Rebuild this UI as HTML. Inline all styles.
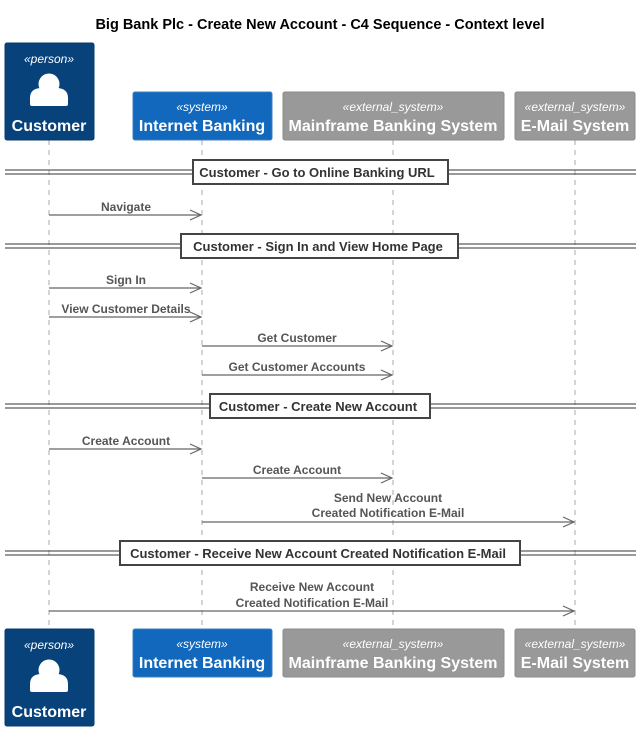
<!DOCTYPE html>
<html><head><meta charset="utf-8"><style>
html,body{margin:0;padding:0;background:#fff}
svg{display:block}
text{font-family:"Liberation Sans",Arial,sans-serif}
.t{font-size:16px;font-weight:bold;fill:#fff;text-anchor:middle}
.s{font-size:12px;font-style:italic;fill:#fff;text-anchor:middle}
.m{font-size:12px;font-weight:bold;fill:#555;text-anchor:middle}
.d{font-size:13px;font-weight:bold;fill:#333;text-anchor:middle}
</style></head><body>
<svg width="641" height="731" viewBox="0 0 641 731" xmlns="http://www.w3.org/2000/svg">
<defs>
<g id="person"><circle cx="0" cy="0" r="10.5" fill="#fff"/><path d="M-19,20 v-6 q0,-10 12,-10 h14 q12,0 12,10 v6 q0,2 -2,2 h-34 q-2,0 -2,-2z" fill="#fff"/></g>
</defs>
<text x="320" y="29" font-size="14.5" font-weight="bold" text-anchor="middle" fill="#000">Big Bank Plc - Create New Account - C4 Sequence - Context level</text>
<g stroke="#aaa" stroke-dasharray="5,5" stroke-width="1">
<line x1="49" y1="140" x2="49" y2="629"/><line x1="202" y1="140" x2="202" y2="629"/>
<line x1="393" y1="140" x2="393" y2="629"/><line x1="575" y1="140" x2="575" y2="629"/>
</g>
<rect x="5" y="43" width="89" height="97" rx="2" fill="#08427B" stroke="#073B6F"/>
<text class="s" x="49" y="63">«person»</text>
<use href="#person" x="49" y="84"/>
<text class="t" x="49" y="131">Customer</text>
<rect x="133" y="92" width="139" height="48" rx="2" fill="#1168BD" stroke="#3C7FC0"/>
<text class="s" x="202" y="111">«system»</text><text class="t" x="202" y="131">Internet Banking</text>
<rect x="283" y="92" width="221" height="48" rx="2" fill="#999" stroke="#8A8A8A"/>
<text class="s" x="393" y="111">«external_system»</text><text class="t" x="393" y="131">Mainframe Banking System</text>
<rect x="515" y="92" width="120" height="48" rx="2" fill="#999" stroke="#8A8A8A"/>
<text class="s" x="575" y="111">«external_system»</text><text class="t" x="575" y="131">E-Mail System</text>
<rect x="5" y="629" width="89" height="97" rx="2" fill="#08427B" stroke="#073B6F"/>
<text class="s" x="49" y="649">«person»</text>
<use href="#person" x="49" y="670"/>
<text class="t" x="49" y="717">Customer</text>
<rect x="133" y="629" width="139" height="48" rx="2" fill="#1168BD" stroke="#3C7FC0"/>
<text class="s" x="202" y="648">«system»</text><text class="t" x="202" y="668">Internet Banking</text>
<rect x="283" y="629" width="221" height="48" rx="2" fill="#999" stroke="#8A8A8A"/>
<text class="s" x="393" y="648">«external_system»</text><text class="t" x="393" y="668">Mainframe Banking System</text>
<rect x="515" y="629" width="120" height="48" rx="2" fill="#999" stroke="#8A8A8A"/>
<text class="s" x="575" y="648">«external_system»</text><text class="t" x="575" y="668">E-Mail System</text>
<g stroke="#333" stroke-width="1" fill="none">
<line x1="5" y1="170" x2="636" y2="170"/><line x1="5" y1="174" x2="636" y2="174"/>
<line x1="5" y1="244" x2="636" y2="244"/><line x1="5" y1="248" x2="636" y2="248"/>
<line x1="5" y1="404" x2="636" y2="404"/><line x1="5" y1="408" x2="636" y2="408"/>
<line x1="5" y1="551" x2="636" y2="551"/><line x1="5" y1="555" x2="636" y2="555"/>
</g>
<g fill="#fff" stroke="#444" stroke-width="2">
<rect x="193" y="160" width="255" height="24"/>
<rect x="181" y="234" width="277" height="24"/>
<rect x="210" y="394" width="220" height="24"/>
<rect x="120" y="541" width="400" height="24"/>
</g>
<text class="d" x="317" y="177">Customer - Go to Online Banking URL</text>
<text class="d" x="318" y="251">Customer - Sign In and View Home Page</text>
<text class="d" x="318" y="411">Customer - Create New Account</text>
<text class="d" x="318" y="558">Customer - Receive New Account Created Notification E-Mail</text>
<g stroke="#666" stroke-width="1.2" fill="none">
<line x1="49" y1="215" x2="201" y2="215"/><path d="M190,210 L201,215 L190,220"/>
<line x1="49" y1="288" x2="201" y2="288"/><path d="M190,283 L201,288 L190,293"/>
<line x1="49" y1="317" x2="201" y2="317"/><path d="M190,312 L201,317 L190,322"/>
<line x1="202" y1="346" x2="392" y2="346"/><path d="M381,341 L392,346 L381,351"/>
<line x1="202" y1="375" x2="392" y2="375"/><path d="M381,370 L392,375 L381,380"/>
<line x1="49" y1="449" x2="201" y2="449"/><path d="M190,444 L201,449 L190,454"/>
<line x1="202" y1="478" x2="392" y2="478"/><path d="M381,473 L392,478 L381,483"/>
<line x1="202" y1="522" x2="574" y2="522"/><path d="M563,517 L574,522 L563,527"/>
<line x1="49" y1="611" x2="574" y2="611"/><path d="M563,606 L574,611 L563,616"/>
</g>
<text class="m" x="126" y="211">Navigate</text>
<text class="m" x="126" y="284">Sign In</text>
<text class="m" x="126" y="313">View Customer Details</text>
<text class="m" x="297" y="342">Get Customer</text>
<text class="m" x="297" y="371">Get Customer Accounts</text>
<text class="m" x="126" y="445">Create Account</text>
<text class="m" x="297" y="474">Create Account</text>
<text class="m" x="388" y="502">Send New Account</text>
<text class="m" x="388" y="517">Created Notification E-Mail</text>
<text class="m" x="312" y="591">Receive New Account</text>
<text class="m" x="312" y="607">Created Notification E-Mail</text>
</svg>
</body></html>
